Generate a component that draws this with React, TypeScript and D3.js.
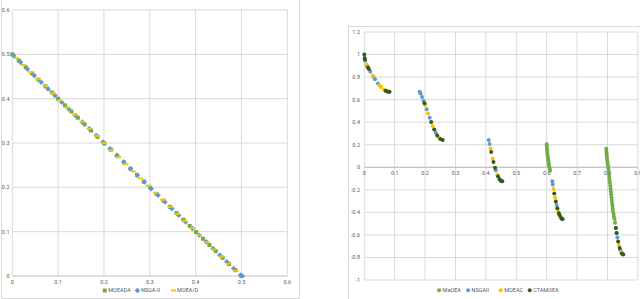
import React from 'react';
import * as d3 from 'd3';

// left chart: linear front
const leftXTicks = [0, 0.1, 0.2, 0.3, 0.4, 0.5, 0.6];
const leftYTicks = [0, 0.1, 0.2, 0.3, 0.4, 0.5, 0.6];
const leftNames = ['MOEADA', 'NSGA-II', 'MOEA/D'];

const leftGreen: [number, number][] = [
  [0.0, 0.5], [0.014, 0.486], [0.029, 0.471], [0.043, 0.457], [0.057, 0.443], [0.072, 0.428],
  [0.086, 0.414], [0.1, 0.4], [0.115, 0.385], [0.129, 0.371], [0.143, 0.357], [0.158, 0.342],
  [0.172, 0.328], [0.186, 0.314], [0.201, 0.299], [0.215, 0.285], [0.229, 0.271], [0.244, 0.256],
  [0.258, 0.242], [0.272, 0.228], [0.287, 0.213], [0.301, 0.199], [0.315, 0.185], [0.33, 0.17],
  [0.344, 0.156], [0.358, 0.142], [0.373, 0.127], [0.387, 0.113], [0.401, 0.099], [0.416, 0.084],
  [0.43, 0.07], [0.444, 0.056], [0.459, 0.041], [0.473, 0.027], [0.487, 0.013], [0.5, 0.0],
];
const leftBlue: [number, number][] = [
  [0.003, 0.497], [0.018, 0.482], [0.033, 0.467], [0.048, 0.452], [0.063, 0.437], [0.078, 0.422],
  [0.093, 0.407], [0.108, 0.392], [0.123, 0.377], [0.138, 0.362], [0.153, 0.347], [0.168, 0.332],
  [0.183, 0.317], [0.198, 0.302], [0.213, 0.287], [0.228, 0.272], [0.243, 0.257], [0.258, 0.242],
  [0.273, 0.227], [0.288, 0.212], [0.303, 0.197], [0.318, 0.182], [0.333, 0.167], [0.348, 0.152],
  [0.363, 0.137], [0.378, 0.122], [0.393, 0.107], [0.408, 0.092], [0.423, 0.077], [0.438, 0.062],
  [0.453, 0.047], [0.468, 0.032], [0.483, 0.017], [0.498, 0.002], [0.502, 0.0],
];
const leftYellow: [number, number][] = [
  [0.008, 0.492], [0.024, 0.476], [0.04, 0.46], [0.056, 0.444], [0.072, 0.428], [0.088, 0.412],
  [0.104, 0.396], [0.12, 0.38], [0.136, 0.364], [0.152, 0.348], [0.168, 0.332], [0.184, 0.316],
  [0.2, 0.3], [0.216, 0.284], [0.232, 0.268], [0.248, 0.252], [0.264, 0.236], [0.28, 0.22],
  [0.296, 0.204], [0.312, 0.188], [0.328, 0.172], [0.344, 0.156], [0.36, 0.14], [0.376, 0.124],
  [0.392, 0.108], [0.408, 0.092], [0.424, 0.076], [0.44, 0.06], [0.456, 0.044], [0.472, 0.028],
  [0.488, 0.012],
];

// right chart: disconnected front
const rightXTicks = [0, 0.1, 0.2, 0.3, 0.4, 0.5, 0.6, 0.7, 0.8, 0.9];
const rightYTicks = [-1, -0.8, -0.6, -0.4, -0.2, 0, 0.2, 0.4, 0.6, 0.8, 1, 1.2];
const rightNames = ['MaOEA', 'NSGAII', 'MOEAC', 'CTAMOEA'];

const rightLight: [number, number][] = [
  [0.6, 0.205], [0.6005, 0.185], [0.601, 0.163], [0.6015, 0.145], [0.602, 0.125], [0.603, 0.105],
  [0.604, 0.085], [0.605, 0.063], [0.606, 0.045], [0.607, 0.025], [0.608, 0.008], [0.61, -0.012],
  [0.611, -0.03],
  [0.796, 0.165], [0.7965, 0.145], [0.797, 0.125], [0.7975, 0.105], [0.798, 0.085], [0.799, 0.065],
  [0.8, 0.045], [0.801, 0.025], [0.802, 0.005], [0.803, -0.015], [0.804, -0.04], [0.805, -0.065],
  [0.806, -0.09], [0.807, -0.115], [0.808, -0.14], [0.809, -0.165], [0.81, -0.19], [0.811, -0.215],
  [0.812, -0.24], [0.813, -0.265], [0.814, -0.29], [0.815, -0.315], [0.816, -0.34], [0.817, -0.365],
  [0.818, -0.39], [0.82, -0.415], [0.821, -0.44], [0.8233, -0.458], [0.825, -0.492], [0.8275, -0.539],
  [0.83, -0.583],
];
const rightBlue: [number, number][] = [
  [0.003, 0.945], [0.01, 0.897], [0.02, 0.847], [0.03, 0.8025], [0.035, 0.7817], [0.045, 0.7435],
  [0.1822, 0.6698], [0.185, 0.6539], [0.19, 0.6228], [0.195, 0.5889], [0.205, 0.5152], [0.215, 0.4387],
  [0.235, 0.3058],
  [0.4093, 0.2423], [0.412, 0.2065], [0.4325, -0.0264],
  [0.6184, -0.1242], [0.62, -0.1518], [0.6325, -0.3346],
  [0.8325, -0.6222], [0.8425, -0.7371],
];
const rightYellow: [number, number][] = [
  [0.0075, 0.9116], [0.028, 0.8111], [0.05, 0.7264], [0.055, 0.7112], [0.065, 0.6871],
  [0.2, 0.5528], [0.21, 0.4768], [0.225, 0.3666], [0.245, 0.263],
  [0.415, 0.1674], [0.4225, 0.0756], [0.4375, -0.0656], [0.4475, -0.1151],
  [0.6225, -0.1933], [0.6275, -0.2693], [0.6375, -0.3874], [0.645, -0.4402],
  [0.8375, -0.689], [0.845, -0.7538], [0.85, -0.772],
];
const rightDark: [number, number][] = [
  [0, 1], [0.001, 0.9683], [0.002, 0.9552], [0.012, 0.8861], [0.015, 0.8707], [0.07, 0.6788],
  [0.075, 0.6731], [0.08, 0.6702], [0.083, 0.6697],
  [0.198, 0.5674], [0.22, 0.4017], [0.23, 0.3343], [0.24, 0.2818], [0.25, 0.25], [0.2578, 0.2422],
  [0.4175, 0.1358], [0.425, 0.0476], [0.43, -0.0036], [0.44, -0.0817], [0.445, -0.1066], [0.45, -0.1208],
  [0.4539, -0.1242],
  [0.625, -0.2325], [0.63, -0.3034], [0.635, -0.3627], [0.64, -0.4087], [0.6425, -0.4264],
  [0.6475, -0.4502], [0.65, -0.4562], [0.6525, -0.4583],
  [0.8275, -0.5389], [0.83, -0.5825], [0.835, -0.6578], [0.84, -0.7154], [0.8475, -0.7655],
  [0.8518, -0.7733],
];

const GRID = '#d9d9d9';
const AXIS = '#bfbfbf';
const TEXT = '#595959';
const FONT = 'Roboto, "Open Sans", sans-serif';
const FS = 5.5;
const green = '#70ad47';
const blue = '#5b9bd5';
const yellow = '#ffc000';
const dark = '#345a1f';

function Marker({ kind, x, y, color }: { kind: string; x: number; y: number; color: string }) {
  if (kind === 'square') return <rect x={x - 2} y={y - 2} width={4} height={4} fill={color} />;
  if (kind === 'diamond')
    return <path d={`M${x},${y - 2.8}L${x + 2.8},${y}L${x},${y + 2.8}L${x - 2.8},${y}Z`} fill={color} />;
  if (kind === 'dash') return <rect x={x - 2.5} y={y - 1} width={5} height={2} fill={color} />;
  return <circle cx={x} cy={y} r={2} fill={color} />;
}

function Legend({ cx, y, items }: { cx: number; y: number; items: { name: string; color: string; kind: string }[] }) {
  const charW = 3.6;
  const widths = items.map((d) => 6 + d.name.length * charW);
  const gap = 5;
  const total = d3.sum(widths) + gap * (items.length - 1);
  let x = cx - total / 2;
  return (
    <g>
      {items.map((d, i) => {
        const x0 = x;
        x += widths[i] + gap;
        return (
          <g key={d.name}>
            <Marker kind={d.kind === 'dash' ? 'dash' : d.kind === 'circle' ? 'circle' : d.kind} x={x0 + 2} y={y} color={d.color} />
            <text x={x0 + 5.5} y={y} dy="0.35em" fontSize={FS} fill={TEXT} fontFamily={FONT}>
              {d.name}
            </text>
          </g>
        );
      })}
    </g>
  );
}

function LeftChart() {
  const x = d3.scaleLinear().domain([0, 0.6]).range([12.3, 287.3]);
  const y = d3.scaleLinear().domain([0, 0.6]).range([276, 10]);
  const series = [
    { data: leftGreen, color: green, kind: 'square' },
    { data: leftBlue, color: blue, kind: 'diamond' },
    { data: leftYellow, color: yellow, kind: 'dash' },
  ];
  return (
    <g>
      <rect x={1.5} y={-10} width={298} height={308.5} fill="#fff" stroke={GRID} />
      {leftYTicks.map((t) => (
        <g key={'y' + t}>
          <line x1={x(0)} x2={x(0.6)} y1={y(t)} y2={y(t)} stroke={t === 0 ? AXIS : GRID} />
          <text x={9.5} y={y(t)} dy="0.35em" textAnchor="end" fontSize={FS} fill={TEXT} fontFamily={FONT}>
            {t}
          </text>
        </g>
      ))}
      {leftXTicks.map((t) => (
        <g key={'x' + t}>
          <line x1={x(t)} x2={x(t)} y1={y(0.6)} y2={y(0)} stroke={GRID} />
          <text x={x(t)} y={282.5} dy="0.35em" textAnchor="middle" fontSize={FS} fill={TEXT} fontFamily={FONT}>
            {t}
          </text>
        </g>
      ))}
      {series.map((s, i) => (
        <g key={i}>
          {s.data.map((d, j) => (
            <Marker key={j} kind={s.kind} x={x(d[0])} y={y(d[1])} color={s.color} />
          ))}
        </g>
      ))}
      <Legend
        cx={151}
        y={290.5}
        items={leftNames.map((n, i) => ({ name: n, color: series[i].color, kind: series[i].kind }))}
      />
    </g>
  );
}

function RightChart() {
  const x = d3.scaleLinear().domain([0, 0.9]).range([364.3, 637.9]);
  const y = d3.scaleLinear().domain([-1, 1.2]).range([280, 32]);
  const series = [
    { data: rightLight, color: green },
    { data: rightBlue, color: blue },
    { data: rightYellow, color: yellow },
    { data: rightDark, color: dark },
  ];
  return (
    <g>
      <rect x={348.5} y={26.5} width={300} height={290} fill="#fff" stroke={GRID} />
      {rightYTicks.map((t) => (
        <g key={'y' + t}>
          <line x1={x(0)} x2={x(0.9)} y1={y(t)} y2={y(t)} stroke={GRID} />
          <text x={360} y={y(t)} dy="0.35em" textAnchor="end" fontSize={FS} fill={TEXT} fontFamily={FONT}>
            {t}
          </text>
        </g>
      ))}
      {rightXTicks.map((t) => (
        <g key={'x' + t}>
          <line x1={x(t)} x2={x(t)} y1={y(1.2)} y2={y(-1)} stroke={GRID} />
          <text x={x(t)} y={y(0) + 6} dy="0.35em" textAnchor="middle" fontSize={FS} fill={TEXT} fontFamily={FONT}>
            {t}
          </text>
        </g>
      ))}
      <line x1={x(0)} x2={x(0.9)} y1={y(0)} y2={y(0)} stroke={AXIS} />
      {series.map((s, i) => (
        <g key={i}>
          {s.data.map((d, j) => (
            <Marker key={j} kind="circle" x={x(d[0])} y={y(d[1])} color={s.color} />
          ))}
        </g>
      ))}
      <Legend
        cx={498}
        y={290.3}
        items={rightNames.map((n, i) => ({ name: n, color: series[i].color, kind: 'circle' }))}
      />
    </g>
  );
}

export default function App() {
  return (
    <div style={{ position: 'absolute', left: 0, top: 0, background: '#fff' }}>
      <svg width={640} height={299} style={{ display: 'block' }}>
        <rect width={640} height={299} fill="#fff" />
        <LeftChart />
        <RightChart />
      </svg>
    </div>
  );
}
